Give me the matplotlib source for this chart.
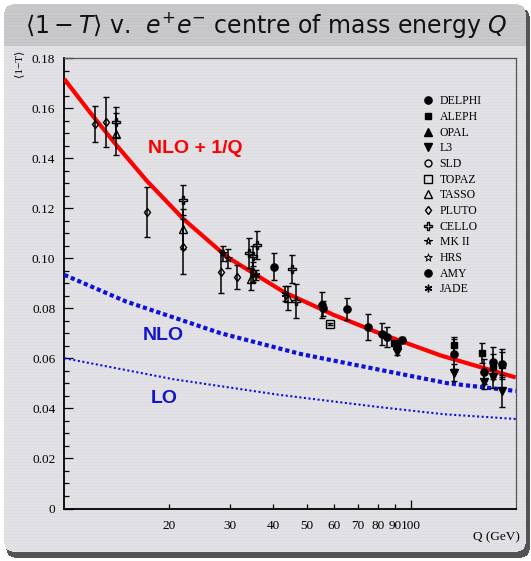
import numpy as np
import matplotlib
matplotlib.use("Agg")
import matplotlib.pyplot as plt
from matplotlib.lines import Line2D
from matplotlib.ticker import NullFormatter

plt.rcParams['mathtext.fontset'] = 'dejavusans'

# ---------------- data ----------------
PLUTO_Q = [12.3, 13.2, 17.3, 22.0, 28.3, 31.5, 35.1]
PLUTO_V = [0.1538, 0.1547, 0.1187, 0.1047, 0.0947, 0.0925, 0.0947]
PLUTO_E = [0.0072, 0.0100, 0.0100, 0.0110, 0.0085, 0.0048, 0.0040]

TASSO_Q = [14.1, 22.0, 34.5, 44.0]
TASSO_V = [0.1498, 0.1117, 0.0917, 0.0841]
TASSO_E = [0.0085, 0.0080, 0.0043, 0.0048]

CELLO_Q = [14.1, 22.0, 34.0, 35.0, 35.9, 45.3, 46.5]
CELLO_V = [0.1545, 0.1234, 0.1021, 0.1011, 0.1054, 0.0957, 0.0830]
CELLO_E = [0.0060, 0.0060, 0.0060, 0.0040, 0.0055, 0.0055, 0.0067]

MKII_Q = [28.6]
MKII_V = [0.1021]
MKII_E = [0.0030]

HRS_Q = [29.6]
HRS_V = [0.1001]
HRS_E = [0.0038]

JADE_Q = [35.7, 43.4]
JADE_V = [0.0934, 0.0858]
JADE_E = [0.0020, 0.0030]

AMY_Q = [55.3]
AMY_V = [0.0814]
AMY_E = [0.0053]

TOPAZ_Q = [58.2]
TOPAZ_V = [0.0737]
TOPAZ_E = [0.0005]

DELPHI_Q = [40.1, 55.6, 65.3, 75.0, 82.5, 85.2, 91.2, 93.9, 133.0, 162.0, 172.5, 183.0]
DELPHI_V = [0.0967, 0.0800, 0.0797, 0.0727, 0.0698, 0.0687, 0.0650, 0.0674, 0.0617, 0.0547, 0.0587, 0.0578]
DELPHI_E = [0.0053, 0.0030, 0.0043, 0.0052, 0.0045, 0.0040, 0.0010, 0.0010, 0.0060, 0.0050, 0.0060, 0.0060]

ALEPH_Q = [89.0, 133.0, 160.0, 172.5, 183.0]
ALEPH_V = [0.0661, 0.0654, 0.0621, 0.0567, 0.0574]
ALEPH_E = [0.0010, 0.0030, 0.0040, 0.0050, 0.0050]

OPAL_Q = [91.2]
OPAL_V = [0.0655]
OPAL_E = [0.0010]

L3_Q = [91.2, 133.0, 162.0, 172.5, 183.0]
L3_V = [0.0627, 0.0543, 0.0507, 0.0527, 0.0470]
L3_E = [0.0015, 0.0035, 0.0030, 0.0045, 0.0065]

# theory curves
RED_Q = [10, 11.86, 14.07, 17.29, 22.06, 29.43, 42.88, 59.78, 81.53, 121.5, 200]
RED_V = [0.1717, 0.1584, 0.1456, 0.1310, 0.1157, 0.1006, 0.0866, 0.0774, 0.0699, 0.0612, 0.0524]
NLO_Q = [10, 15.1, 28.2, 47.9, 81.5, 127, 200]
NLO_V = [0.0934, 0.0827, 0.0701, 0.0618, 0.0554, 0.0501, 0.0470]
LO_Q = [10, 20.6, 41.9, 81.5, 124, 200]
LO_V = [0.0601, 0.0517, 0.0454, 0.0405, 0.0377, 0.0358]

XTICKS = [20, 30, 40, 50, 60, 70, 80, 90]
XTICK_LABELS = ['20', '30', '40', '50', '60', '70', '80', '90']
LEGEND_NAMES = ['DELPHI', 'ALEPH', 'OPAL', 'L3', 'SLD', 'TOPAZ', 'TASSO',
                'PLUTO', 'CELLO', 'MK II', 'HRS', 'AMY', 'JADE']

# ---------------- figure + background ----------------
W, H = 531, 561
fig = plt.figure(figsize=(W / 100, H / 100), dpi=100)

yy, xx = np.mgrid[0:H, 0:W]


def rrect(x0, y0, x1, y1, r):
    m = (xx >= x0) & (xx <= x1) & (yy >= y0) & (yy <= y1)
    for cx, cy in [(x0 + r, y0 + r), (x1 - r, y0 + r), (x0 + r, y1 - r), (x1 - r, y1 - r)]:
        corner = ((xx < x0 + r) if cx == x0 + r else (xx > x1 - r)) & \
                 ((yy < y0 + r) if cy == y0 + r else (yy > y1 - r))
        m &= ~(corner & ((xx - cx) ** 2 + (yy - cy) ** 2 > r ** 2))
    return m


img = np.ones((H, W, 3))
shadow = rrect(6, 8, 529, 557, 8)
block = rrect(4, 4, 525, 551, 8)
img[shadow] = (0.33, 0.33, 0.33)
title = block & (yy < 46)
body = block & (yy >= 46)
img[body] = (0.890, 0.890, 0.905)
img[title] = (0.790, 0.790, 0.800)
stripe = block & (yy % 3 == 0)
img[stripe] -= 0.022
fig.figimage(img, xo=0, yo=0, origin='upper', zorder=-10)

fig.text(266 / W, 1 - 25 / H,
         r"$\langle 1 - T\rangle$ v.  $e^{+}e^{-}$ centre of mass energy $Q$",
         ha='center', va='center', fontsize=17, color='#111111',
         family='DejaVu Sans')

# ---------------- axes ----------------
L, R, T, B = 64.3, 515.7, 58.3, 508.5
ax = fig.add_axes([L / W, 1 - B / H, (R - L) / W, (B - T) / H])
ax.set_facecolor('none')
ax.set_xscale('log')
ax.set_xlim(10, 200)
ax.set_ylim(0, 0.18)

serif = ['Liberation Serif', 'DejaVu Serif']

ax.xaxis.set_major_formatter(NullFormatter())
ax.xaxis.set_minor_formatter(NullFormatter())
ax.set_xticks([100], labels=['100'])
ax.set_xticks(XTICKS, labels=XTICK_LABELS, minor=True)
ax.tick_params(axis='x', which='major', direction='in', length=6.5, width=0.9,
               top=False, pad=8, labelsize=9.5)
ax.tick_params(axis='x', which='minor', direction='in', length=3.3, width=0.9,
               top=False, pad=8, labelsize=9.5)
ax.set_yticks(np.arange(0, 0.181, 0.02))
ax.set_yticks(np.arange(0, 0.181, 0.005), minor=True)
ax.set_yticklabels(['0'] + ['%.2f' % v for v in np.arange(0.02, 0.181, 0.02)])
ax.tick_params(axis='y', which='major', direction='in', length=6.5, width=0.9,
               right=False, pad=6.5, labelsize=9.5)
ax.tick_params(axis='y', which='minor', direction='in', length=3.3, width=0.9,
               right=False)
for lab in ax.get_xticklabels(which='both') + ax.get_yticklabels():
    lab.set_family(serif)
for s in ['left', 'bottom']:
    ax.spines[s].set_linewidth(1.3)
    ax.spines[s].set_color('black')
for s in ['top', 'right']:
    ax.spines[s].set_linewidth(0.9)
    ax.spines[s].set_color('#555555')

# theory curves
ax.plot(RED_Q, RED_V, color='#ff0000', lw=3.0, solid_capstyle='butt',
        solid_joinstyle='round', zorder=3)
ax.plot(NLO_Q, NLO_V, color='#1010dd', lw=3.0, linestyle=(0, (1.0, 0.7)),
        dash_capstyle='butt', zorder=3)
ax.plot(LO_Q, LO_V, color='#1010dd', lw=1.5, linestyle=(0, (1.0, 1.2)),
        dash_capstyle='butt', zorder=3)

fig.text(195 / W, 1 - 148.5 / H, 'NLO + 1/Q', color='#ff0000', fontsize=14,
         fontweight='bold', family='Liberation Sans', ha='center', va='center')
fig.text(163 / W, 1 - 335.5 / H, 'NLO', color='#1515cc', fontsize=14,
         fontweight='bold', family='Liberation Sans', ha='center', va='center')
fig.text(164 / W, 1 - 398.5 / H, 'LO', color='#1515cc', fontsize=14,
         fontweight='bold', family='Liberation Sans', ha='center', va='center')

# data
styles = {
    'DELPHI': dict(marker='o', ms=5.2, mfc='black'),
    'ALEPH': dict(marker='s', ms=5.0, mfc='black'),
    'OPAL': dict(marker='^', ms=5.2, mfc='black'),
    'L3': dict(marker='v', ms=5.2, mfc='black'),
    'SLD': dict(marker='o', ms=5.0, mfc='none', mew=1.0),
    'TOPAZ': dict(marker='s', ms=5.5, mfc='none', mew=1.0),
    'TASSO': dict(marker='^', ms=5.5, mfc='none', mew=1.0),
    'PLUTO': dict(marker='d', ms=4.5, mfc='none', mew=1.0),
    'CELLO': dict(marker='P', ms=5.5, mfc='none', mew=1.0),
    'MK II': dict(marker='*', ms=5.5, mfc='none', mew=0.8),
    'HRS': dict(marker='$\u2606$', ms=6.0, mfc='black', mew=0.3),
    'AMY': dict(marker='o', ms=5.2, mfc='black'),
    'JADE': dict(marker=(6, 2, 0), ms=5.5, mew=1.0),
}
series = [
    ('PLUTO', PLUTO_Q, PLUTO_V, PLUTO_E),
    ('TASSO', TASSO_Q, TASSO_V, TASSO_E),
    ('CELLO', CELLO_Q, CELLO_V, CELLO_E),
    ('MK II', MKII_Q, MKII_V, MKII_E),
    ('HRS', HRS_Q, HRS_V, HRS_E),
    ('JADE', JADE_Q, JADE_V, JADE_E),
    ('AMY', AMY_Q, AMY_V, AMY_E),
    ('TOPAZ', TOPAZ_Q, TOPAZ_V, TOPAZ_E),
    ('DELPHI', DELPHI_Q, DELPHI_V, DELPHI_E),
    ('ALEPH', ALEPH_Q, ALEPH_V, ALEPH_E),
    ('OPAL', OPAL_Q, OPAL_V, OPAL_E),
    ('L3', L3_Q, L3_V, L3_E),
]
for name, q, v, e in series:
    st = styles[name]
    ax.errorbar(q, v, yerr=e, fmt='none', ecolor='black', elinewidth=1.1,
                capsize=2.4, capthick=1.0, zorder=4)
    ax.plot(q, v, linestyle='none', color='black', mec='black', zorder=6, **st)

handles = [Line2D([], [], linestyle='none', color='black', mec='black', **styles[n])
           for n in LEGEND_NAMES]
leg = ax.legend(handles, LEGEND_NAMES, loc='upper left',
                bbox_to_anchor=(422 / W, 1 - 95.5 / H), bbox_transform=fig.transFigure,
                frameon=False, handlelength=1.0, handletextpad=0.5, borderpad=0,
                borderaxespad=0, labelspacing=0.31,
                prop={'family': serif, 'size': 8.5})

fig.text(18 / W, 1 - 63 / H, '\u27e81\u2212T\u27e9', rotation=90, ha='center',
         va='center', fontsize=8, family=serif)
fig.text(496 / W, 1 - 537 / H, 'Q (GeV)', ha='center', va='center',
         fontsize=9.5, family=serif)

fig.savefig('out.png', dpi=100)
